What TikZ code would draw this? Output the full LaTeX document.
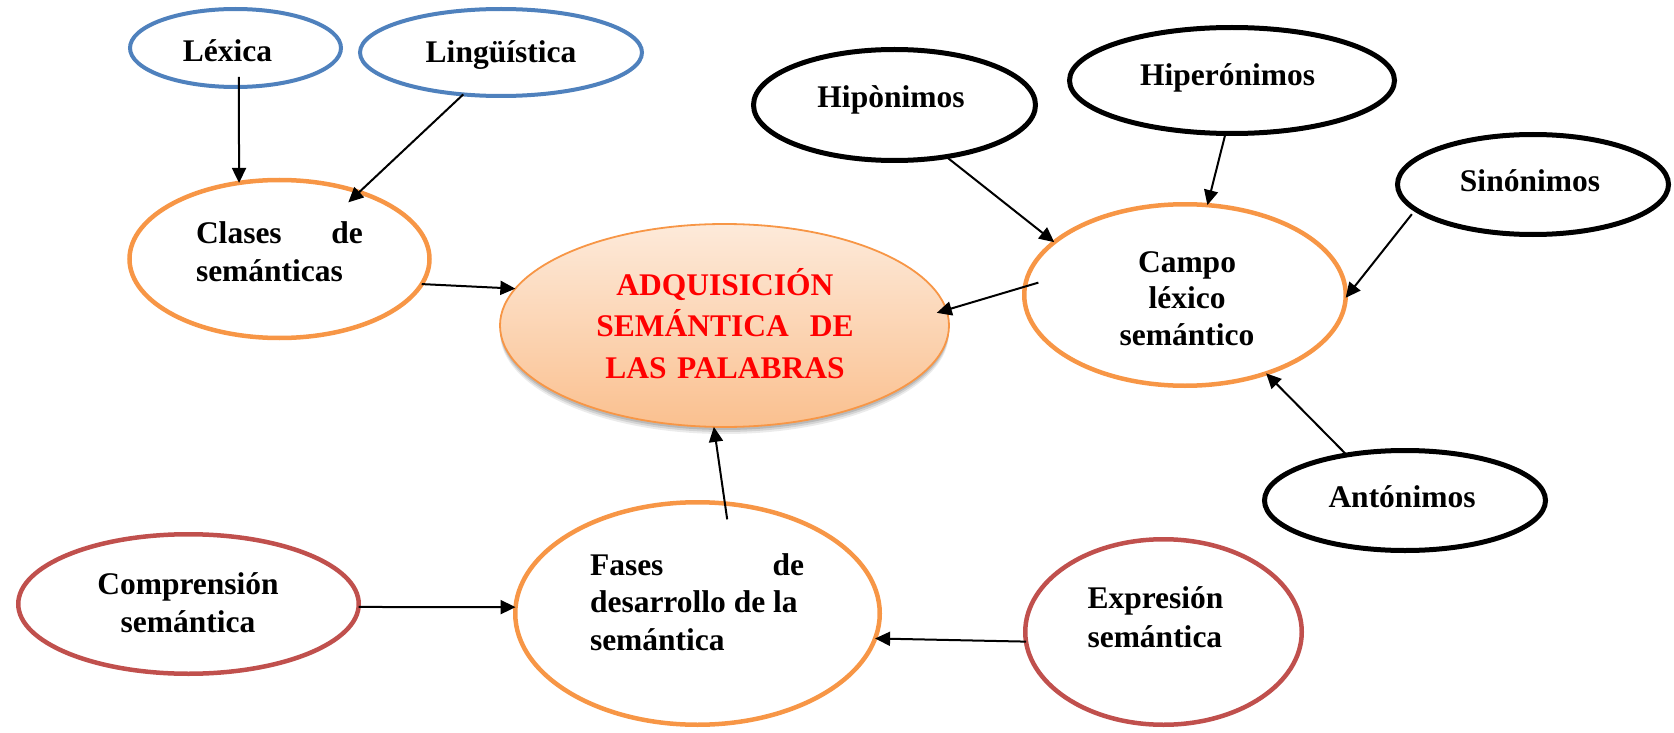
\documentclass[tikz,border=0pt]{standalone}
\usepackage{fontspec}
\setmainfont{Liberation Serif}
\usetikzlibrary{shapes.geometric,arrows.meta,shadows}
\definecolor{cblue}{HTML}{4F81BD}
\definecolor{corange}{HTML}{F79646}
\definecolor{cred}{HTML}{C0504D}
\definecolor{adqtop}{HTML}{FDEADA}
\definecolor{adqbot}{HTML}{FAC08F}
\definecolor{adqtext}{HTML}{FF0000}
\newcommand{\fsnode}{\fontsize{31.5pt}{38pt}\selectfont\bfseries}
\begin{document}
\begin{tikzpicture}[x=1pt,y=-1pt,
  oval/.style={ellipse, inner sep=0pt, outer sep=0pt},
  blueoval/.style={oval, draw=cblue, line width=4pt},
  orangeoval/.style={oval, draw=corange, line width=4.5pt},
  blackoval/.style={oval, draw=black, line width=5pt},
  redoval/.style={oval, draw=cred, line width=4.5pt},
  adqoval/.style={oval, draw=corange, line width=1.8pt, top color=adqtop, bottom color=adqbot,
     drop shadow={shadow xshift=0pt, shadow yshift=-7pt, opacity=0.08, fill=black},
     drop shadow={shadow xshift=0pt, shadow yshift=-5pt, opacity=0.10, fill=black},
     drop shadow={shadow xshift=0pt, shadow yshift=-3pt, opacity=0.12, fill=black}},
  lbl/.style={anchor=base, inner sep=0pt, outer sep=0pt, font=\fsnode, align=center},
  arr/.style={line width=2pt, -{Triangle[length=15pt,width=14pt]}},
]
\useasboundingbox (0,0) rectangle (1674,733);

% ovals
\node[blueoval, minimum width=211pt, minimum height=78pt] (lex) at (235.5,48) {};
\node[blueoval, minimum width=282pt, minimum height=87pt] (lin) at (501,52.5) {};
\node[orangeoval, minimum width=300pt, minimum height=158pt] (cla) at (279.5,259) {};
\node[adqoval, minimum width=449pt, minimum height=203pt] (adq) at (724.5,325.5) {};
\node[blackoval, minimum width=282pt, minimum height=111pt] (hip) at (894.5,105) {};
\node[blackoval, minimum width=325pt, minimum height=106pt] (hyp) at (1232,80.5) {};
\node[blackoval, minimum width=271pt, minimum height=100pt] (sin) at (1533,184.5) {};
\node[orangeoval, minimum width=321.5pt, minimum height=181.5pt] (cam) at (1185,295) {};
\node[blackoval, minimum width=281pt, minimum height=100pt] (ant) at (1405,500.5) {};
\node[redoval, minimum width=340.5pt, minimum height=139.5pt] (com) at (188.5,604) {};
\node[orangeoval, minimum width=364.5pt, minimum height=222.5pt] (fas) at (697.5,613.5) {};
\node[redoval, minimum width=276.5pt, minimum height=185.5pt] (exq) at (1163.5,632) {};

% connectors
\draw[arr, shorten <=-10pt] (lex.-85.1) -- (cla.118);
\draw[arr, shorten >=-15pt] (lin.-132.5) -- (cla.40.3);
\draw[arr] (cla.-10.3) -- (adq.170);
\draw[arr] (hip.-45.8) -- (cam.158.8);
\draw[arr] (hyp.-97.1) -- (cam.76.1);
\draw[arr, shorten <=6pt] (sin.-168) -- (cam.-1.8);
\draw[arr, shorten <=-14pt, shorten >=-10pt] (cam.177.1) -- (adq.4.4);
\draw[arr] (ant.142.5) -- (cam.-44.6);
\draw[arr, shorten <=-16pt] (fas.76.5) -- (adq.-96.3);
\draw[arr] (com.-1.3) -- (fas.178.3);
\draw[arr] (exq.-176.7) -- (fas.-8.6);

% texts
\node[lbl, text width=100pt] (lext) at (227.5,62) {Léxica};
\node[lbl, text width=160pt] (lint) at (501,63) {Lingüística};
\node[lbl, text width=167pt, align=flush left] (clat) at (279.5,243) {Clases\hfill de\\semánticas};
\node[lbl, text width=300pt, text=adqtext, font=\fontsize{31.5pt}{41.5pt}\selectfont\bfseries] (adqt) at (725,295) {ADQUISICIÓN\\SEMÁNTICA\ \ DE\\LAS PALABRAS};
\node[lbl, text width=170pt] (hipt) at (891,108) {Hipònimos};
\node[lbl, text width=190pt] (hypt) at (1227.5,86) {Hiperónimos};
\node[lbl, text width=160pt] (sint) at (1530,192) {Sinónimos};
\node[lbl, text width=200pt, font=\fontsize{31.5pt}{36.5pt}\selectfont\bfseries] (camt) at (1187,272) {Campo\\léxico\\semántico};
\node[lbl, text width=170pt] (antt) at (1402,507) {Antónimos};
\node[lbl, text width=220pt] (comt) at (188,594) {Comprensión\\semántica};
\node[lbl, text width=214pt, align=flush left, font=\fontsize{31.5pt}{37.5pt}\selectfont\bfseries] (fast) at (697,575) {Fases\hfill de\\desarrollo de la\\semántica};
\node[lbl, text width=137pt, align=flush left, font=\fontsize{31.5pt}{39pt}\selectfont\bfseries] (exqt) at (1156,608) {Expresión\\semántica};
\end{tikzpicture}
\end{document}
